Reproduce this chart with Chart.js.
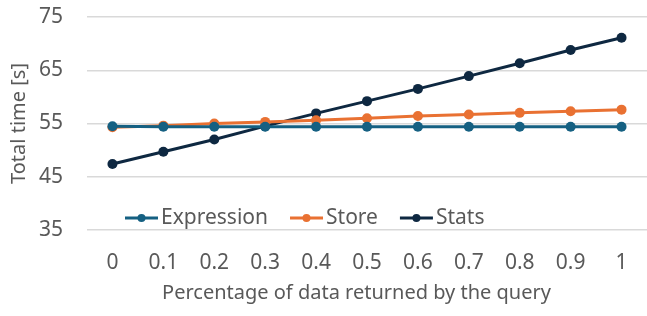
<!DOCTYPE html>
<html lang="en">
<head>
  <meta charset="UTF-8">
  <title>Total time vs percentage of data returned</title>
  <style>
    html, body {
      margin: 0;
      padding: 0;
      background: #fff;
      overflow: hidden;
    }
    .wrap {
      position: relative;
      width: 652px;
      height: 316px;
    }
  </style>
  <script src="https://cdn.jsdelivr.net/npm/chart.js"></script>
</head>
<body>
  <div class="wrap">
    <canvas id="timeChart" width="652" height="316"></canvas>
  </div>
  <script>
    // Data
    const fractions = ["0", "0.1", "0.2", "0.3", "0.4", "0.5", "0.6", "0.7", "0.8", "0.9", "1"];
    const expression = [54.5, 54.4, 54.4, 54.4, 54.4, 54.4, 54.4, 54.4, 54.4, 54.4, 54.4];
    const store = [54.3, 54.6, 55.0, 55.3, 55.6, 56.0, 56.4, 56.7, 57.0, 57.3, 57.6];
    const stats = [47.4, 49.7, 52.0, 54.5, 56.9, 59.2, 61.5, 63.9, 66.3, 68.8, 71.1];
    const yTicks = [35, 45, 55, 65, 75];
    const xTitle = 'Percentage of data returned by the query';

    const FONT = "'Noto Sans', sans-serif";
    const GREY = '#595959';

    // Legend inside the plot area and the x title, drawn like the original
    const extras = {
      id: 'extras',
      afterDraw(chart) {
        const ctx = chart.ctx;
        let x = 125;
        const y = 218;
        ctx.save();
        ctx.font = '21px ' + FONT;
        ctx.textBaseline = 'middle';
        chart.data.datasets.forEach(ds => {
          ctx.strokeStyle = ds.borderColor;
          ctx.lineWidth = 3;
          ctx.beginPath();
          ctx.moveTo(x, y);
          ctx.lineTo(x + 33, y);
          ctx.stroke();
          ctx.fillStyle = ds.borderColor;
          ctx.beginPath();
          ctx.arc(x + 16.5, y, 4, 0, Math.PI * 2);
          ctx.fill();
          ctx.fillStyle = GREY;
          ctx.fillText(ds.label, x + 36, y);
          x += 36 + ctx.measureText(ds.label).width + 22;
        });
        ctx.font = '20px ' + FONT;
        ctx.textAlign = 'center';
        ctx.fillText(xTitle, 356.5, 293);
        ctx.restore();
      }
    };

    function series(label, data, color) {
      return {
        label: label,
        data: data,
        borderColor: color,
        backgroundColor: color,
        borderWidth: 3,
        pointRadius: 5,
        pointHoverRadius: 5,
        pointBorderWidth: 0,
        tension: 0
      };
    }

    new Chart(document.getElementById('timeChart'), {
      type: 'line',
      data: {
        labels: fractions,
        datasets: [
          series('Expression', expression, '#156082'),
          series('Store', store, '#E97132'),
          series('Stats', stats, '#0E2841')
        ]
      },
      options: {
        responsive: false,
        animation: false,
        layout: { padding: { top: 17, right: 0, bottom: 0, left: 0 } },
        plugins: {
          legend: { display: false },
          tooltip: { enabled: false }
        },
        scales: {
          x: {
            offset: true,
            grid: { display: false },
            border: { display: false },
            ticks: { color: GREY, font: { family: FONT, size: 21 }, padding: 12 },
            afterFit(scale) { scale.height = 86; }
          },
          y: {
            min: 35,
            max: 75,
            afterBuildTicks(scale) { scale.ticks = yTicks.map(v => ({ value: v })); },
            grid: { color: '#d9d9d9', lineWidth: 1.5, drawTicks: false },
            border: { display: false },
            ticks: { color: GREY, font: { family: FONT, size: 21 }, padding: 24 },
            title: {
              display: true,
              text: 'Total time [s]',
              color: GREY,
              font: { family: FONT, size: 20 },
              padding: { top: 7, bottom: 0 }
            },
            afterFit(scale) {
              scale.width = 87;
              scale.paddingTop = 12;
              scale.paddingBottom = 12;
            }
          }
        }
      },
      plugins: [extras]
    });
  </script>
</body>
</html>
